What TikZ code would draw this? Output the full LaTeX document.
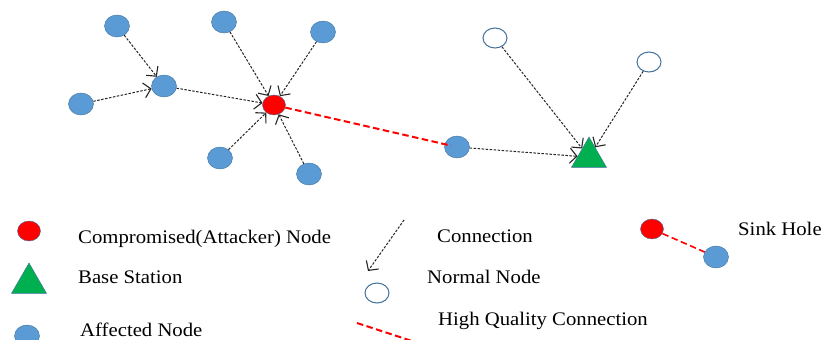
\documentclass[tikz,border=0pt]{standalone}
\usepackage{fontspec}
\setmainfont{Liberation Serif}[FakeStretch=1.08]
\usetikzlibrary{shapes.geometric,arrows.meta}
\definecolor{nodeblue}{RGB}{91,155,213}
\definecolor{rimblue}{RGB}{65,113,156}
\definecolor{bsgreen}{RGB}{0,176,80}
\tikzset{
  affected/.style={ellipse,fill=nodeblue,draw=rimblue,line width=0.4pt,minimum width=25pt,minimum height=22pt,inner sep=0pt},
  attacker/.style={ellipse,fill=red,draw=rimblue,line width=0.4pt,minimum width=23pt,minimum height=20pt,inner sep=0pt},
  normal/.style={ellipse,fill=white,draw=rimblue,line width=1pt,minimum width=24pt,minimum height=20pt,inner sep=0pt},
  basestation/.style={regular polygon,regular polygon sides=3,fill=bsgreen,draw=rimblue,line width=0.4pt,minimum size=40.4pt,inner sep=0pt},
  conn/.style={black!85,line width=1pt,dash pattern=on 2.5pt off 1.5pt,
    -{Straight Barb[length=7pt,width=15pt,line width=1.1pt]}},
  hq/.style={red,line width=2pt,dash pattern=on 6.5pt off 3.5pt},
  lbl/.style={anchor=base west,inner sep=0pt,font=\fontsize{19.2}{22}\selectfont}
}
\begin{document}
\begin{tikzpicture}[x=1pt,y=-1pt]
\useasboundingbox (0,0) rectangle (822,340);
% network
\node[affected] (a1) at (117,26) {};
\node[affected] (a2) at (224,22) {};
\node[affected] (a3) at (323,32) {};
\node[affected] (hub) at (164,86) {};
\node[affected] (lft) at (81,104) {};
\node[affected] (b1) at (220,158) {};
\node[affected] (b2) at (309,174) {};
\node[affected] (relay) at (457,147) {};
\node[attacker] (atk) at (274,105) {};
\node[normal] (n1) at (495,38) {};
\node[normal] (n2) at (649,62) {};
\node[basestation] (bs) at (589,157.2) {};
\draw[conn] (a1) -- (hub);
\draw[conn] (lft) -- (hub);
\draw[conn] (hub) -- (atk);
\draw[conn] (a2) -- (atk);
\draw[conn] (a3) -- (atk);
\draw[conn] (b1) -- (atk);
\draw[conn] (b2) -- (atk);
\draw[conn] (relay) -- (bs);
\draw[conn] (n1) -- (bs);
\draw[conn] (n2) -- (bs);
\draw[hq,shorten >=6pt] (atk) -- (relay.center);
% legend
\node[attacker] (lgatk) at (29,231) {};
\node[lbl] (tatk) at (78,243) {Compromised(Attacker) Node};
\node[basestation] (lgbs) at (29,283.2) {};
\node[lbl] (tbs) at (78,283) {Base Station};
\node[affected] (lgaff) at (27,336) {};
\node[lbl] (taff) at (80,336) {Affected Node};
\coordinate (cfrom) at (404,220);
\coordinate (cto) at (368,271);
\draw[conn] (cfrom) -- (cto);
\node[lbl] (tconn) at (437,242) {Connection};
\node[normal] (lgnorm) at (377,293) {};
\node[lbl] (tnorm) at (427,283) {Normal Node};
\coordinate (hqfrom) at (357,323);
\coordinate (hqto) at (418,343);
\draw[hq] (hqfrom) -- (hqto);
\node[lbl] (thq) at (438,325) {High Quality Connection};
\node[attacker] (skatk) at (652,229) {};
\node[affected] (skaff) at (716,257) {};
\draw[hq,line width=1.6pt] (skatk) -- (skaff);
\node[lbl] (tsink) at (738,235) {Sink Hole};
\end{tikzpicture}
\end{document}
